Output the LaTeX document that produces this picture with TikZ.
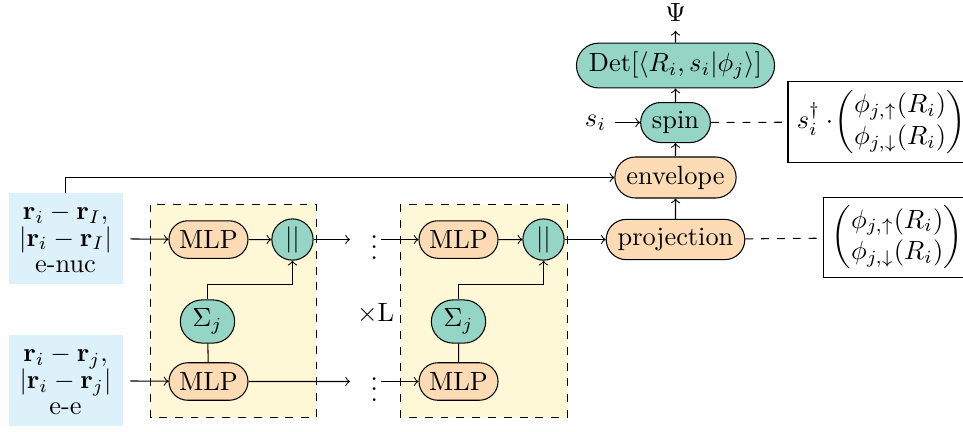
\documentclass[tikz,border=0pt]{standalone}
\usepackage{amsmath}
\usetikzlibrary{positioning,shapes.misc}
\definecolor{mlpfill}{HTML}{FDDCB5}
\definecolor{opfill}{HTML}{94D5C5}
\definecolor{infill}{HTML}{DDF1FA}
\definecolor{layerfill}{HTML}{FFF8D6}
\begin{document}
\begin{tikzpicture}[
    pill/.style={rounded rectangle, draw, minimum height=0.5cm, inner xsep=3pt},
    mlpbox/.style={pill, fill=mlpfill},
    opbox/.style={pill, fill=opfill},
    catnode/.style={circle, draw, fill=opfill, minimum size=0.55cm, inner sep=0pt},
    inbox/.style={rectangle, fill=infill, align=center, minimum width=1.52cm, minimum height=1.21cm, outer xsep=3pt},
    layerbox/.style={draw, dashed, fill=layerfill},
    formbox/.style={rectangle, draw, anchor=west},
    dots/.style={inner xsep=1pt, inner ysep=0pt, text width=0.33cm, align=right},
    arrow/.style={->}
]
    \useasboundingbox (-0.0067,0.0067) rectangle (12.8333,-5.74);

    % the two layers
    \draw[layerbox] (2.0,-2.72) rectangle (4.213,-5.56);
    \draw[layerbox] (5.333,-2.72) rectangle (7.56,-5.56);

    \node[inbox] (enuc) at (0.867,-3.173) {$\mathbf{r}_i-\mathbf{r}_I,$\\[-2pt] $|\mathbf{r}_i-\mathbf{r}_I|$\\[-2pt] e-nuc};
    \node[inbox] (ee) at (0.867,-5.067) {$\mathbf{r}_i-\mathbf{r}_j,$\\[-2pt] $|\mathbf{r}_i-\mathbf{r}_j|$\\[-2pt] e-e};

    \node[mlpbox] (mlpA) at (2.773,-3.187) {MLP};
    \node[catnode] (catA) at (3.893,-3.187) {$||$};
    \node[opbox] (sumA) at (2.76,-4.28) {$\Sigma_j$};
    \node[mlpbox] (mlpB) at (2.773,-5.08) {MLP};

    \node[dots] (dotsA) at (4.867,-3.187) {$\vdots$};
    \node[dots] (dotsB) at (4.867,-5.08) {$\vdots$};
    \node (times) at (5.0,-4.173) {$\times$L};

    \node[mlpbox] (mlpC) at (6.107,-3.187) {MLP};
    \node[catnode] (catC) at (7.24,-3.187) {$||$};
    \node[opbox] (sumC) at (6.107,-4.28) {$\Sigma_j$};
    \node[mlpbox] (mlpD) at (6.107,-5.08) {MLP};

    \node[mlpbox] (proj) at (9.0,-3.187) {projection};
    \node[mlpbox] (env) at (9.0,-2.36) {envelope};
    \node[opbox] (spin) at (9.0,-1.627) {spin};
    \node[opbox] (det) at (9.0,-0.867) {$\mathrm{Det}[\langle R_i, s_i|\phi_j\rangle]$};
    \node (psi) at (9.0,-0.16) {$\Psi$};
    \node (si) at (7.933,-1.627) {$s_i$};

    \node[formbox] (spinform) at (10.493,-1.62) {$s_i^\dagger\cdot\!\begin{pmatrix}\phi_{j,\uparrow}(R_i)\\\phi_{j,\downarrow}(R_i)\end{pmatrix}$};
    \node[formbox] (projform) at (10.96,-3.16) {$\begin{pmatrix}\phi_{j,\uparrow}(R_i)\\\phi_{j,\downarrow}(R_i)\end{pmatrix}$};

    \draw[arrow] (enuc) -- (mlpA);
    \draw[arrow] (ee) -- (mlpB);
    \draw[arrow] (mlpA) -- (catA);
    \draw (mlpB) -- (sumA);
    \draw[arrow] (sumA.north) -- ++(0,0.2) -| (catA.south);
    \draw[arrow] (catA) -- (dotsA);
    \draw[arrow] (mlpB) -- (dotsB);

    \draw[arrow] (dotsA) -- (mlpC);
    \draw[arrow] (dotsB) -- (mlpD);
    \draw[arrow] (mlpC) -- (catC);
    \draw (mlpD) -- (sumC);
    \draw[arrow] (sumC.north) -- ++(0,0.2) -| (catC.south);
    \draw[arrow] (catC) -- (proj);

    \draw[arrow] (enuc.north) |- (env.west);
    \draw[arrow] (proj) -- (env);
    \draw[arrow] (env) -- (spin);
    \draw[arrow] (si) -- (spin);
    \draw[arrow] (spin) -- (det);
    \draw[arrow] (det) -- (psi);

    \draw[dashed] (spin) -- (spinform);
    \draw[dashed] (proj) -- (projform);
\end{tikzpicture}
\end{document}
